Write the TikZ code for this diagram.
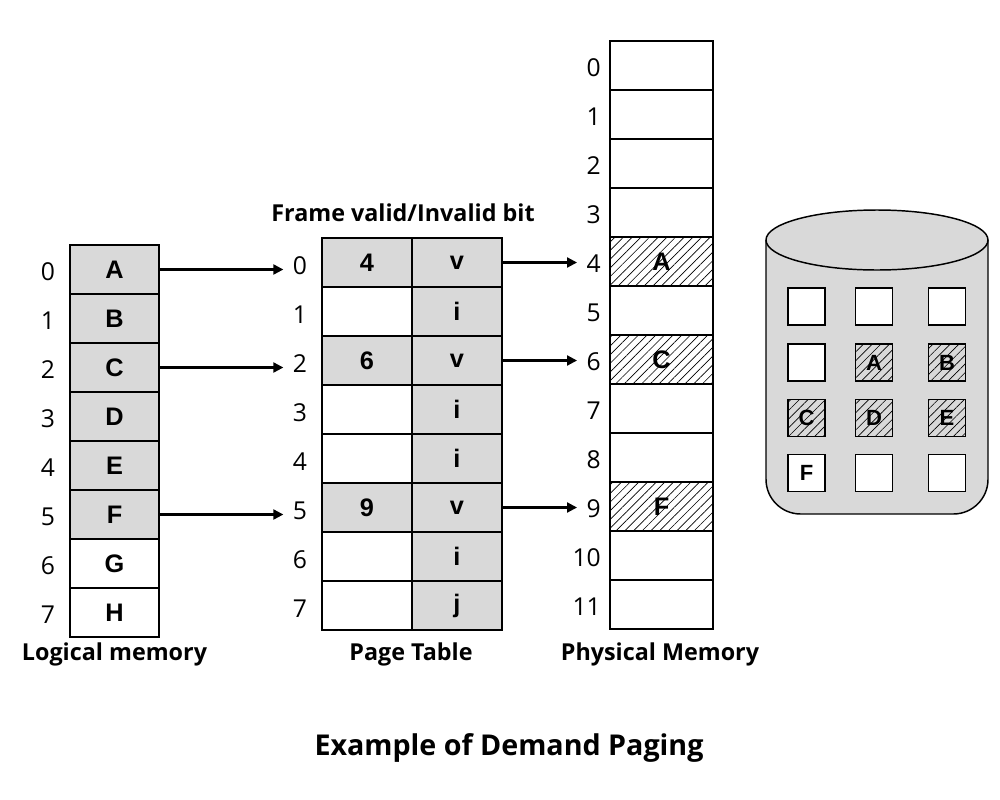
\documentclass[tikz,border=0pt]{standalone}
\usepackage{fontspec}
\setmainfont{Open Sans}
\newfontfamily\cellfont{Liberation Sans}
\usetikzlibrary{patterns.meta,arrows.meta}
\definecolor{cellgray}{HTML}{D9D9D9}
\begin{document}
\begin{tikzpicture}[x=0.75pt,y=-0.75pt,
  box/.style={draw, line width=1.1pt, inner sep=0pt, outer sep=0pt,
    font=\cellfont\bfseries\fontsize{19}{22}\selectfont},
  lcell/.style={box, minimum width=66.75pt, minimum height=36.75pt},
  pcell/.style={box, minimum width=67.5pt, minimum height=36.75pt},
  fcell/.style={box, minimum width=77.25pt, minimum height=36.75pt},
  dcell/.style={box, minimum width=27.75pt, minimum height=27.75pt,
    font=\cellfont\bfseries\fontsize{16.5}{19}\selectfont},
  used/.style={fill=cellgray},
  plain/.style={fill=white},
  hatch/.style={pattern={Lines[angle=45,distance=4.6pt,line width=0.5pt]}, pattern color=black},
  idx/.style={inner sep=0pt, font=\fontsize{18.5}{21}\selectfont},
  caption/.style={inner sep=0pt, font=\bfseries\fontsize{17.5}{20}\selectfont},
  ptr/.style={line width=1.6pt, -{Triangle[length=7.5pt,width=7.5pt]}, shorten >=7pt},
]
\useasboundingbox (0,0) rectangle (1000,800);

% ---------- Logical memory ----------
\foreach \l [count=\i from 0] in {A,B,C,D,E,F,G,H} {
  \pgfmathsetmacro{\yy}{269.5+49*\i}
  \ifnum\i<6
    \node[lcell,used] (l\i) at (114.5,\yy) {\l};
  \else
    \node[lcell] (l\i) at (114.5,\yy) {\l};
  \fi
  \node[idx] (li\i) at (48,\yy+2) {\i};
}
\node[caption] (lcap) at (114.5,654) {Logical memory};

% ---------- Page table ----------
\node[caption] (phead) at (403,213) {Frame valid/Invalid bit};
\foreach \f/\b [count=\i from 0] in {4/v,/i,6/v,/i,/i,9/v,/i,/j} {
  \pgfmathsetmacro{\yy}{262.5+49*\i}
  \ifx\f\empty
    \node[pcell] (pf\i) at (367,\yy) {};
  \else
    \node[pcell,used] (pf\i) at (367,\yy) {\f};
  \fi
  \node[pcell,used] (pb\i) at (457,\yy) {\b};
  \node[idx] (pi\i) at (300,\yy+3) {\i};
}
\node[caption] (pcap) at (411,654) {Page Table};

% ---------- Physical memory ----------
\foreach \i in {0,...,11} {
  \pgfmathsetmacro{\yy}{65.5+49*\i}
  \node[fcell] (m\i) at (661.5,\yy) {};
  \node[idx,anchor=east] (mi\i) at (601,\yy+2) {\i};
}
\node[fcell,hatch] (m4) at (661.5,261.5) {A};
\node[fcell,hatch] (m6) at (661.5,359.5) {C};
\node[fcell,hatch] (m9) at (661.5,506.5) {F};
\node[caption] (mcap) at (660,654) {Physical Memory};

% ---------- Arrows ----------
\draw[ptr] (l0.east) -- (l0.east -| pi0.west);
\draw[ptr] (l2.east) -- (l2.east -| pi2.west);
\draw[ptr] (l5.east) -- (l5.east -| pi5.west);
\draw[ptr] (pb0.east) -- (pb0.east -| mi4.west);
\draw[ptr] (pb2.east) -- (pb2.east -| mi6.west);
\draw[ptr] (pb5.east) -- (pb5.east -| mi9.west);

% ---------- Disk ----------
\path[fill=cellgray, draw, line width=1.1pt, rounded corners=26pt]
  (766,240) -- (766,514) -- (988,514) -- (988,240);
\draw[fill=cellgray, line width=1.1pt] (877,240) ellipse [x radius=111, y radius=30];
\node[dcell,plain] (d00) at (806.5,306.5) {};
\node[dcell,plain] (d01) at (874,306.5) {};
\node[dcell,plain] (d02) at (947,306.5) {};
\node[dcell,plain] (d10) at (806.5,362.5) {};
\node[dcell,hatch] (d11) at (874,362.5) {A};
\node[dcell,hatch] (d12) at (947,362.5) {B};
\node[dcell,hatch] (d20) at (806.5,418) {C};
\node[dcell,hatch] (d21) at (874,418) {D};
\node[dcell,hatch] (d22) at (947,418) {E};
\node[dcell,plain] (d30) at (806.5,473) {F};
\node[dcell,plain] (d31) at (874,473) {};
\node[dcell,plain] (d32) at (947,473) {};

% ---------- Title ----------
\node[inner sep=0pt, font=\bfseries\fontsize{21.5}{25}\selectfont] (title) at (509,748) {Example of Demand Paging};
\end{tikzpicture}
\end{document}
